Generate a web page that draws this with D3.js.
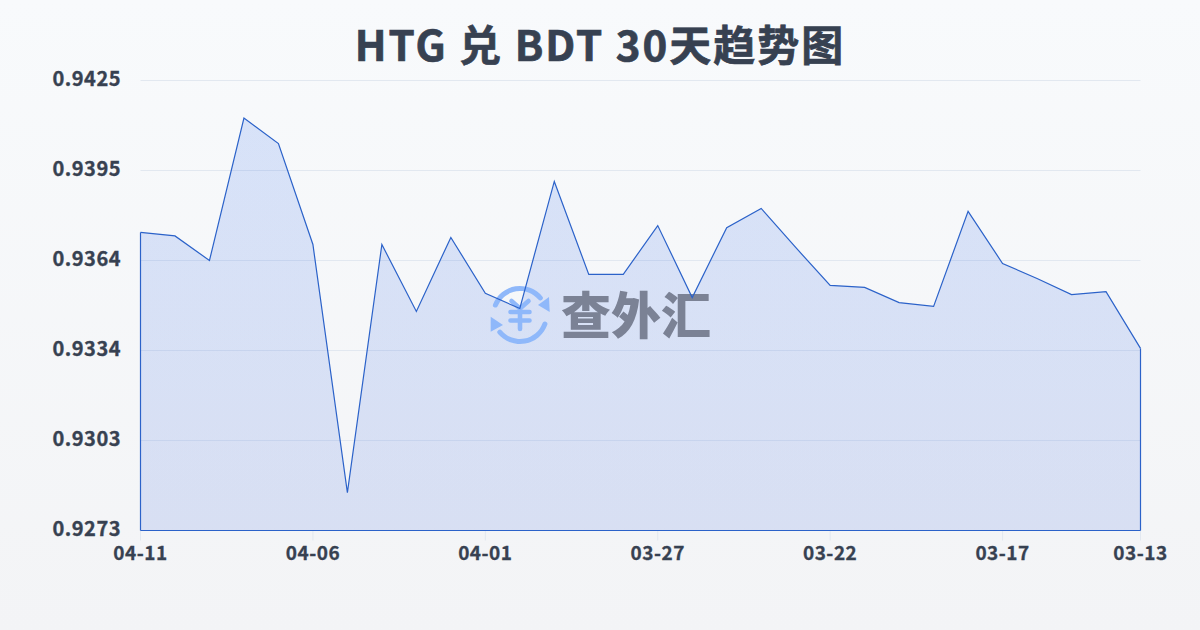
<!DOCTYPE html>
<html><head><meta charset="utf-8">
<script src="https://cdn.jsdelivr.net/npm/d3@7"></script>
<style>html,body{margin:0;padding:0;background:#f8fafc}svg{display:block}text{font-family:"Noto Sans CJK SC","Noto Sans",sans-serif}</style>
</head><body><svg id="c" width="1200" height="630"></svg>
<script>
const titleText = "HTG 兑 BDT 30天趋势图";
const dates = ["04-11","04-10","04-09","04-08","04-07","04-06","04-05","04-04","04-03","04-02","04-01","03-31","03-30","03-29","03-28","03-27","03-26","03-25","03-24","03-23","03-22","03-21","03-20","03-19","03-18","03-17","03-16","03-15","03-14","03-13"];
const rates = [0.93737,0.93725,0.93642,0.94123,0.94037,0.93696,0.92858,0.93696,0.93470,0.93720,0.93531,0.93480,0.93909,0.93595,0.93595,0.93760,0.93517,0.93753,0.93818,0.93686,0.93558,0.93551,0.93500,0.93487,0.93808,0.93632,0.93581,0.93527,0.93537,0.93345];
const xTickLabels = ["04-11","04-06","04-01","03-27","03-22","03-17","03-13"];
const yTicks = [0.9273,0.93034,0.93338,0.93642,0.93946,0.9425];

const svg = d3.select("#c");
const defs = svg.append("defs");
const bg = defs.append("linearGradient").attr("id","bg").attr("x1",0).attr("y1",0).attr("x2",0).attr("y2",1);
bg.append("stop").attr("offset",0).attr("stop-color","#f8fafc");
bg.append("stop").attr("offset",1).attr("stop-color","#f3f4f6");
const ag = defs.append("linearGradient").attr("id","ag").attr("x1",0).attr("y1",0).attr("x2",0).attr("y2",1);
ag.append("stop").attr("offset",0).attr("stop-color","#2563eb").attr("stop-opacity",0.15);
ag.append("stop").attr("offset",1).attr("stop-color","#1d4ed8").attr("stop-opacity",0.13);
svg.append("rect").attr("width",1200).attr("height",630).attr("fill","url(#bg)");

const x = d3.scalePoint().domain(dates).range([140.5,1140.5]);
const y = d3.scaleLinear().domain([0.9273,0.9425]).range([530.5,80.5]);
const ink = "#374151";

svg.append("text").attr("x",600).attr("y",61).attr("text-anchor","middle")
  .attr("font-size",42).attr("letter-spacing",2).attr("font-weight",700)
  .attr("fill",ink).attr("stroke",ink).attr("stroke-width",0.7).text(titleText);

svg.append("g").selectAll("line").data(yTicks.slice(1)).join("line")
  .attr("x1",140.5).attr("x2",1140.5).attr("y1",d=>y(d)).attr("y2",d=>y(d))
  .attr("stroke","#e2e8f0").attr("stroke-width",1);

svg.append("g").selectAll("text").data(yTicks).join("text")
  .attr("x",121).attr("y",d=>y(d)+5.5).attr("text-anchor","end").attr("letter-spacing",0.5)
  .attr("font-size",20).attr("font-weight",700).attr("fill",ink).attr("stroke",ink).attr("stroke-width",0.35).text(d=>d3.format(".4f")(d));

const xt = svg.append("g").selectAll("g").data(xTickLabels).join("g");
xt.append("line").attr("x1",d=>x(d)).attr("x2",d=>x(d)).attr("y1",530.5).attr("y2",540.5)
  .attr("stroke","#e2e8f0");
xt.append("text").attr("x",d=>x(d)).attr("y",560).attr("text-anchor","middle").attr("letter-spacing",0.5)
  .attr("font-size",19).attr("font-weight",700).attr("fill",ink).attr("stroke",ink).attr("stroke-width",0.3).text(d=>d);

const area = d3.area().x((d,i)=>x(dates[i])).y0(y(0.9273)).y1(d=>y(d));
svg.append("path").datum(rates).attr("d",area).attr("fill","url(#ag)");

// watermark
const wm = svg.append("g");
const blue="#8fb8fa", cx=520, cy=315;
const arc = d3.arc().innerRadius(24).outerRadius(29).cornerRadius(2.4);
wm.append("path").attr("transform",`translate(${cx},${cy})`).attr("fill",blue).attr("d",arc({startAngle:-1.28,endAngle:0.965}));
wm.append("path").attr("transform",`translate(${cx},${cy})`).attr("fill",blue).attr("d",arc({startAngle:1.825,endAngle:4.1}));
wm.append("path").attr("fill",blue).attr("d",`M${cx+29},${cy-18} L${cx+29.7},${cy-3} L${cx+18},${cy-10} Z`);
wm.append("path").attr("fill",blue).attr("d",`M${cx-29.3},${cy+1.7} L${cx-29.3},${cy+16.7} L${cx-17},${cy+10} Z`);
wm.append("path").attr("fill","none").attr("stroke",blue).attr("stroke-width",4.6).attr("stroke-linecap","round").attr("stroke-linejoin","round")
  .attr("d",`M${cx-8.5},${cy-14} L${cx},${cy-6.5} L${cx+8.5},${cy-14} M${cx},${cy-6.5} V${cy+14} M${cx-9.5},${cy-3} H${cx+9.5} M${cx-9.5},${cy+5.5} H${cx+9.5}`);
wm.append("text").attr("x",636).attr("y",334).attr("text-anchor","middle").attr("font-size",50).attr("font-weight",900).attr("fill","#7b8295").text("查外汇");

const ln = d3.line().x((d,i)=>x(dates[i])).y(d=>y(d));
const stroke="#2b62c9";
svg.append("path").datum(rates).attr("d",ln).attr("fill","none").attr("stroke",stroke).attr("stroke-width",1.2);
svg.append("path").datum([dates[0],dates[29]]).attr("d",d3.line().x(d=>x(d)).y(y(0.9273))).attr("stroke",stroke).attr("stroke-width",1.2).attr("fill","none");
svg.append("path").datum([0,1]).attr("d",d3.line().x(x(dates[0])).y((d,i)=>i?y(0.9273):y(rates[0]))).attr("stroke",stroke).attr("stroke-width",1.2).attr("fill","none");
svg.append("path").datum([0,1]).attr("d",d3.line().x(x(dates[29])).y((d,i)=>i?y(0.9273):y(rates[29]))).attr("stroke",stroke).attr("stroke-width",1.2).attr("fill","none");
</script></body></html>
